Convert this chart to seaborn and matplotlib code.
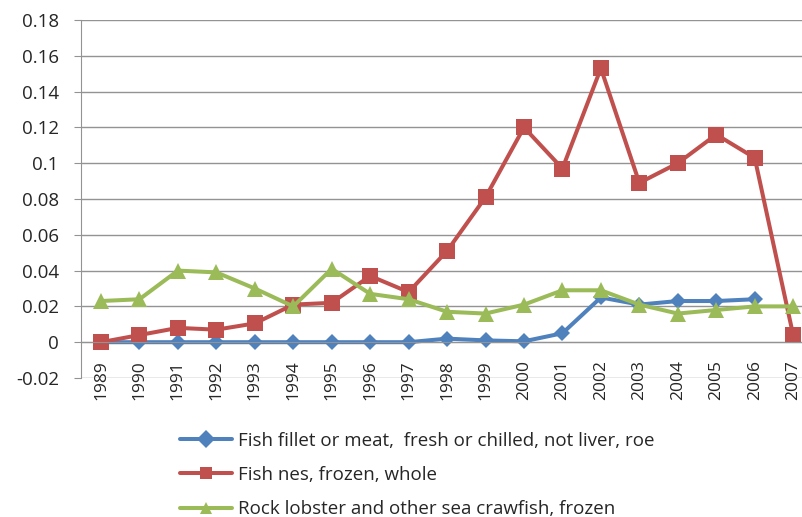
import numpy as np
import pandas as pd
import seaborn as sns
import matplotlib.pyplot as plt
from matplotlib.ticker import FixedLocator

years = [str(y) for y in range(1989, 2008)]

fillet = [0, 0, 0, 0, 0, 0, 0, 0, 0, 0.002, 0.001, 0.0005, 0.005,
          0.025, 0.021, 0.023, 0.023, 0.024, np.nan]
nes_frozen = [0.0, 0.004, 0.008, 0.007, 0.0105, 0.021, 0.022, 0.037, 0.028,
              0.051, 0.081, 0.120, 0.097, 0.153, 0.089, 0.100, 0.116, 0.103, 0.004]
lobster = [0.023, 0.024, 0.040, 0.039, 0.030, 0.020, 0.041, 0.027, 0.024,
           0.017, 0.016, 0.021, 0.029, 0.029, 0.021, 0.016, 0.018, 0.020, 0.020]

labels = ["Fish fillet or meat,  fresh or chilled, not liver, roe",
          "Fish nes, frozen, whole",
          "Rock lobster and other sea crawfish, frozen"]
colors = ["#4F81BD", "#C0504D", "#9BBB59"]

frames = []
for name, vals in zip(labels, [fillet, nes_frozen, lobster]):
    frames.append(pd.DataFrame({"pos": range(len(years)), "value": vals, "series": name}))
df = pd.concat(frames, ignore_index=True)

sns.set_style("white")
plt.rcParams['font.family'] = ['Open Sans', 'DejaVu Sans']

fig = plt.figure(figsize=(8.02, 5.17), dpi=100)
ax = fig.add_axes([81 / 802, 1 - 378 / 517, 1 - 81 / 802, (378 - 20) / 517])

sns.lineplot(data=df, x="pos", y="value", hue="series", style="series",
             palette=colors, markers=["D", "s", "^"], dashes=False,
             linewidth=2.9, markersize=10, markeredgewidth=0, ax=ax)

# marker sizes differ a bit in the original
for line, ms in zip(ax.lines, [8, 11, 11]):
    line.set_markersize(ms)

# spine position first, it resets the tick objects
for s in ["top", "right"]:
    ax.spines[s].set_visible(False)
ax.spines["left"].set_color("#939393")
ax.spines["bottom"].set_color("#939393")
ax.spines["bottom"].set_position(("data", 0))

ax.set_ylim(-0.02, 0.18)
ax.set_xlim(-0.52, 18.23)
yt = np.round(np.arange(-0.02, 0.181, 0.02), 2)
ax.set_yticks(yt)
ax.set_yticklabels(["0" if v == 0 else f"{v:g}" for v in yt], fontsize=13.5)
ax.yaxis.grid(True, color="#939393", linewidth=1)
ax.set_axisbelow(True)

ax.set_xticks(range(len(years)))
ax.set_xticklabels(years, rotation=90, fontsize=12.5)
ax.xaxis.set_minor_locator(FixedLocator(np.arange(0.5, 18.5, 1)))
ax.tick_params(axis="x", which="major", length=0, pad=13)
ax.tick_params(axis="x", which="minor", length=5, color="#939393", direction="out")
ax.tick_params(axis="y", length=5, color="#939393", direction="out", left=True, pad=11)

ax.set_xlabel("")
ax.set_ylabel("")

handles, lbls = ax.get_legend_handles_labels()
for h in handles:
    h.set_markersize(9)
ax.legend(handles, lbls, loc="upper left", bbox_to_anchor=(172 / 802, 1 - 424 / 517),
          bbox_transform=fig.transFigure, frameon=False, fontsize=13.5,
          handlelength=2.8, handletextpad=0.3, labelspacing=0.88, borderaxespad=0)

fig.savefig("out.png", dpi=100)
